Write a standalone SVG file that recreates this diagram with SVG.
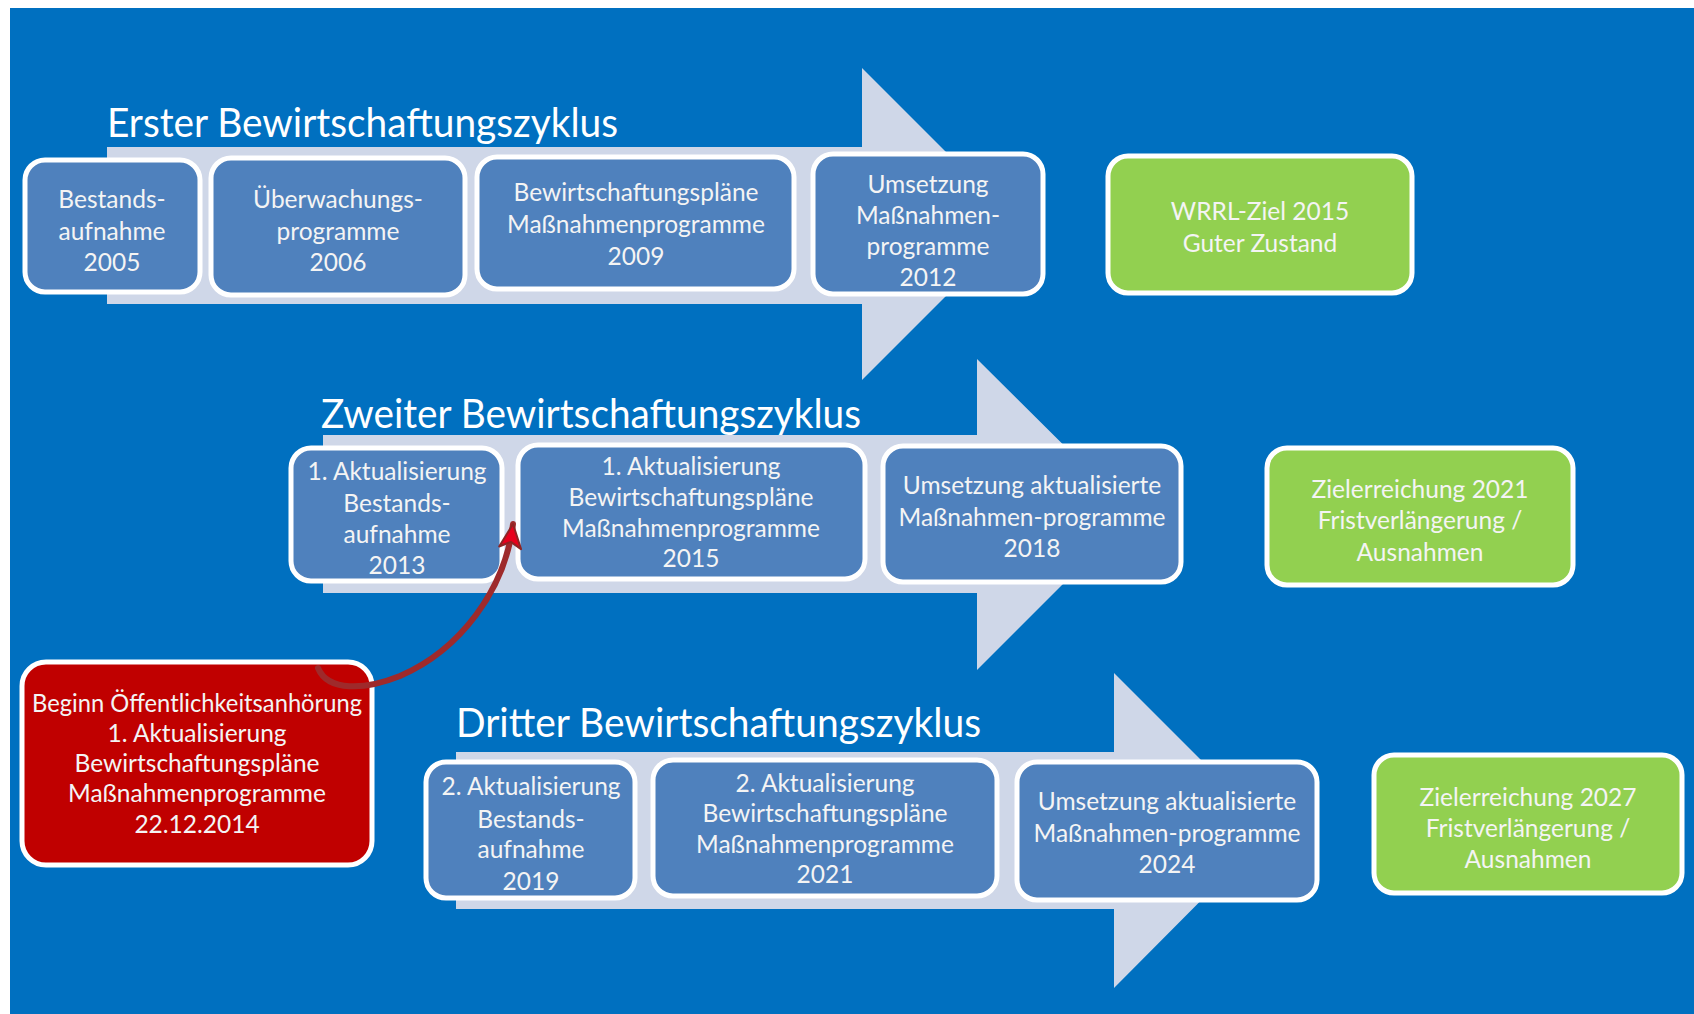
<svg xmlns="http://www.w3.org/2000/svg" width="1694" height="1014" viewBox="0 0 1694 1014">
<style>
.bg{fill:#0070C0}
.band{fill:#CFD7E8}
.box{fill:#4F81BD;stroke:#FFFFFF;stroke-width:5}
.goal{fill:#92D050;stroke:#FFFFFF;stroke-width:5}
.alert{fill:#C00000;stroke:#FFFFFF;stroke-width:5}
.t{font-family:Lato,"Liberation Sans",sans-serif;font-size:24.5px;fill:#F4F4F4;text-anchor:middle}
.title{font-family:Lato,"Liberation Sans",sans-serif;font-size:40px;fill:#FFFFFF}
.link{fill:none;stroke:#9E2A2B;stroke-width:6;stroke-linecap:round}
</style>
<defs>
<marker id="head" markerUnits="userSpaceOnUse" markerWidth="28" markerHeight="26" viewBox="0 0 28 26" refX="26" refY="13" orient="auto">
<path d="M2,2 L26,13 L2,24 L8,13 Z" fill="#E8001C" stroke="#8E2424" stroke-width="2" stroke-linejoin="round"/>
</marker>
</defs>
<rect class="bg" x="10" y="8" width="1684" height="1006"/>

<g id="cycle-arrows">
<path class="band" d="M107,147 H862 V68 L1018,224 L862,380 V304 H107 Z"/>
<path class="band" d="M323,435 H977 V359 L1133,514 L977,670 V593 H323 Z"/>
<path class="band" d="M456,752 H1114 V673 L1271,830 L1114,988 V909 H456 Z"/>
</g>

<g id="title-1"><text class="title" x="107" y="137" textLength="511" lengthAdjust="spacingAndGlyphs">Erster Bewirtschaftungszyklus</text></g>
<g id="title-2"><text class="title" x="321" y="428" textLength="540" lengthAdjust="spacingAndGlyphs">Zweiter Bewirtschaftungszyklus</text></g>
<g id="title-3"><text class="title" x="456" y="737" textLength="525" lengthAdjust="spacingAndGlyphs">Dritter Bewirtschaftungszyklus</text></g>

<g id="n-bestandsaufnahme-2005">
<rect class="box" x="25" y="160" width="175" height="132" rx="20"/>
<text class="t"><tspan x="112" y="208">Bestands-</tspan><tspan x="112" y="240">aufnahme</tspan><tspan x="112" y="271">2005</tspan></text>
</g>
<g id="n-ueberwachung-2006">
<rect class="box" x="211" y="158" width="254" height="137" rx="20"/>
<text class="t"><tspan x="338" y="208">Überwachungs-</tspan><tspan x="338" y="240">programme</tspan><tspan x="338" y="271">2006</tspan></text>
</g>
<g id="n-plaene-2009">
<rect class="box" x="477" y="157" width="317" height="132" rx="20"/>
<text class="t"><tspan x="636" y="201">Bewirtschaftungspläne</tspan><tspan x="636" y="233">Maßnahmenprogramme</tspan><tspan x="636" y="265">2009</tspan></text>
</g>
<g id="n-umsetzung-2012">
<rect class="box" x="813" y="154" width="230" height="140" rx="20"/>
<text class="t"><tspan x="928" y="193">Umsetzung</tspan><tspan x="928" y="224">Maßnahmen-</tspan><tspan x="928" y="255">programme</tspan><tspan x="928" y="286">2012</tspan></text>
</g>
<g id="n-ziel-2015">
<rect class="goal" x="1108" y="156" width="304" height="137" rx="20"/>
<text class="t"><tspan x="1260" y="220">WRRL-Ziel 2015</tspan><tspan x="1260" y="252">Guter Zustand</tspan></text>
</g>

<g id="n-bestandsaufnahme-2013">
<rect class="box" x="291" y="448" width="211" height="133" rx="20"/>
<text class="t"><tspan x="397" y="480">1. Aktualisierung</tspan><tspan x="397" y="512">Bestands-</tspan><tspan x="397" y="543">aufnahme</tspan><tspan x="397" y="574">2013</tspan></text>
</g>
<g id="n-plaene-2015">
<rect class="box" x="518" y="445" width="347" height="134" rx="20"/>
<text class="t"><tspan x="691" y="475">1. Aktualisierung</tspan><tspan x="691" y="506">Bewirtschaftungspläne</tspan><tspan x="691" y="537">Maßnahmenprogramme</tspan><tspan x="691" y="567">2015</tspan></text>
</g>
<g id="n-umsetzung-2018">
<rect class="box" x="883" y="446" width="298" height="136" rx="20"/>
<text class="t"><tspan x="1032" y="494">Umsetzung aktualisierte</tspan><tspan x="1032" y="526">Maßnahmen-programme</tspan><tspan x="1032" y="557">2018</tspan></text>
</g>
<g id="n-ziel-2021">
<rect class="goal" x="1267" y="448" width="306" height="137" rx="20"/>
<text class="t"><tspan x="1420" y="498">Zielerreichung 2021</tspan><tspan x="1420" y="529">Fristverlängerung /</tspan><tspan x="1420" y="561">Ausnahmen</tspan></text>
</g>

<g id="n-anhoerung-2014">
<rect class="alert" x="22" y="662" width="350" height="203" rx="24"/>
<text class="t"><tspan x="197" y="712" textLength="330" lengthAdjust="spacingAndGlyphs">Beginn Öffentlichkeitsanhörung</tspan><tspan x="197" y="742">1. Aktualisierung</tspan><tspan x="197" y="772">Bewirtschaftungspläne</tspan><tspan x="197" y="802">Maßnahmenprogramme</tspan><tspan x="197" y="833">22.12.2014</tspan></text>
</g>

<g id="n-bestandsaufnahme-2019">
<rect class="box" x="426" y="762" width="209" height="136" rx="20"/>
<text class="t"><tspan x="531" y="795">2. Aktualisierung</tspan><tspan x="531" y="828">Bestands-</tspan><tspan x="531" y="858">aufnahme</tspan><tspan x="531" y="890">2019</tspan></text>
</g>
<g id="n-plaene-2021">
<rect class="box" x="653" y="760" width="344" height="136" rx="20"/>
<text class="t"><tspan x="825" y="792">2. Aktualisierung</tspan><tspan x="825" y="822">Bewirtschaftungspläne</tspan><tspan x="825" y="853">Maßnahmenprogramme</tspan><tspan x="825" y="883">2021</tspan></text>
</g>
<g id="n-umsetzung-2024">
<rect class="box" x="1017" y="762" width="300" height="138" rx="20"/>
<text class="t"><tspan x="1167" y="810">Umsetzung aktualisierte</tspan><tspan x="1167" y="842">Maßnahmen-programme</tspan><tspan x="1167" y="873">2024</tspan></text>
</g>
<g id="n-ziel-2027">
<rect class="goal" x="1374" y="755" width="308" height="138" rx="20"/>
<text class="t"><tspan x="1528" y="806">Zielerreichung 2027</tspan><tspan x="1528" y="837">Fristverlängerung /</tspan><tspan x="1528" y="868">Ausnahmen</tspan></text>
</g>

<g id="connectors">
<path class="link" d="M318,668 C328,692 365,690 400,676 C460,650 505,590 513,524" marker-end="url(#head)"/>
</g>
</svg>
